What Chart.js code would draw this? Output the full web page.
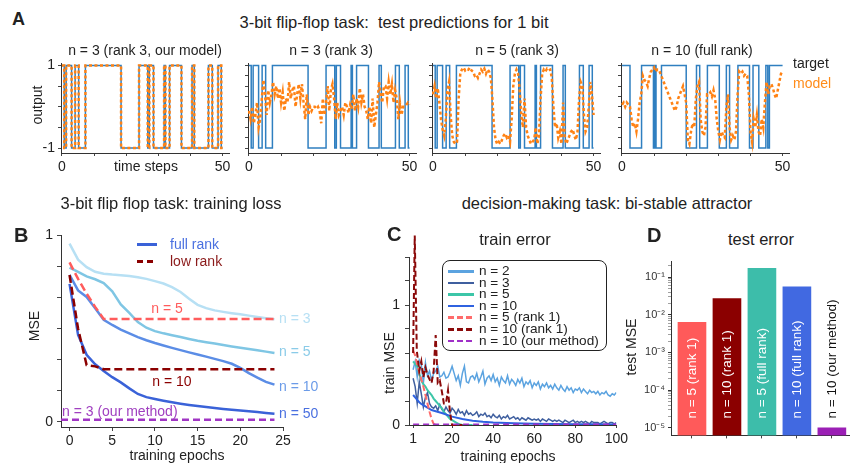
<!DOCTYPE html>
<html>
<head>
<meta charset="utf-8">
<script src="https://cdn.jsdelivr.net/npm/chart.js@4.4.1/dist/chart.umd.min.js"></script>
<style>
body { margin: 0; background: #fff; }
#fig { position: relative; width: 851px; height: 463px; overflow: hidden;
       font-family: "Liberation Sans", Arial, Helvetica, sans-serif; color: #222; }
canvas { position: absolute; }
.t { position: absolute; white-space: nowrap; line-height: 1; transform: translate(-50%, -50%); }
.l { transform: translate(0, -50%); }
.rot { transform: translate(-50%, -50%) rotate(-90deg); }
.big { font-weight: bold; font-size: 20px; }
.sec { font-size: 16.5px; }
.sw { position: absolute; height: 2.5px; }
#cleg { position: absolute; left: 442px; top: 260px; width: 165px; height: 91px;
        border: 1px solid #222; border-radius: 8px; box-sizing: border-box; }
</style>
</head>
<body>
<div id="fig">
  <canvas id="a1" width="198" height="121" style="left:39px;top:52px"></canvas>
  <canvas id="a2" width="198" height="121" style="left:226px;top:52px"></canvas>
  <canvas id="a3" width="198" height="121" style="left:410px;top:52px"></canvas>
  <canvas id="a4" width="198" height="121" style="left:599px;top:52px"></canvas>
  <canvas id="b" width="262" height="228" style="left:33px;top:223px"></canvas>
  <canvas id="c" width="248" height="217" style="left:383px;top:232px"></canvas>
  <canvas id="d" width="212" height="193" style="left:639px;top:252px"></canvas>

  <!-- panel A text -->
  <div class="t l big" style="left:12px;top:19px;font-size:18px">A</div>
  <div class="t sec" style="left:394px;top:22px">3-bit flip-flop task:&nbsp; test predictions for 1 bit</div>
  <div class="t" style="left:145px;top:50px;font-size:14px">n = 3 (rank 3, our model)</div>
  <div class="t" style="left:331px;top:50px;font-size:14px">n = 3 (rank 3)</div>
  <div class="t" style="left:517px;top:50px;font-size:14px">n = 5 (rank 3)</div>
  <div class="t" style="left:702px;top:50px;font-size:14px">n = 10 (full rank)</div>
  <div class="t l" style="left:793px;top:63px;font-size:14px">target</div>
  <div class="t l" style="left:793px;top:83px;font-size:14px;color:#ff8c1a">model</div>
  <div class="t rot" style="left:37px;top:105px;font-size:14px">output</div>
  <div class="t" style="left:146px;top:166px;font-size:14px">time steps</div>

  <!-- panel B text -->
  <div class="t sec" style="left:171px;top:203px">3-bit flip flop task: training loss</div>
  <div class="t l big" style="left:14px;top:235px">B</div>
  <div class="t rot" style="left:34px;top:326px;font-size:14px">MSE</div>
  <div class="t" style="left:177px;top:455px;font-size:14px">training epochs</div>
  <div class="sw" style="left:137px;top:243px;width:20px;background:#3a62d8"></div>
  <div class="t l" style="left:170px;top:244px;font-size:14px;color:#4a70e0">full rank</div>
  <div class="sw" style="left:137px;top:260px;width:20px;background:repeating-linear-gradient(90deg,#8b0000 0 6px,transparent 6px 10px)"></div>
  <div class="t l" style="left:170px;top:261px;font-size:14px;color:#8b1a1a">low rank</div>
  <div class="t" style="left:167px;top:308px;font-size:14px;color:#ff5c5c">n = 5</div>
  <div class="t" style="left:172px;top:381px;font-size:14px;color:#8b0000">n = 10</div>
  <div class="t l" style="left:62px;top:411px;font-size:14px;color:#a040c0">n = 3 (our method)</div>
  <div class="t l" style="left:279px;top:318px;font-size:14px;color:#b7e0f4">n = 3</div>
  <div class="t l" style="left:279px;top:351px;font-size:14px;color:#8acbe8">n = 5</div>
  <div class="t l" style="left:279px;top:386px;font-size:14px;color:#6b9be8">n = 10</div>
  <div class="t l" style="left:279px;top:413px;font-size:14px;color:#4a70e0">n = 50</div>

  <!-- panel C text -->
  <div class="t sec" style="left:607px;top:203px">decision-making task: bi-stable attractor</div>
  <div class="t l big" style="left:387px;top:234px">C</div>
  <div class="t sec" style="left:515px;top:239px">train error</div>
  <div class="t rot" style="left:389px;top:363px;font-size:14px">train MSE</div>
  <div class="t" style="left:508px;top:456px;font-size:14px">training epochs</div>
  <div id="cleg"></div>

  <!-- panel D text -->
  <div class="t l big" style="left:647px;top:235px">D</div>
  <div class="t sec" style="left:761px;top:239px">test error</div>
  <div class="t rot" style="left:631px;top:347px;font-size:14px">test MSE</div>
</div>

<script>
// ---------- panel A: flip-flop test trial ----------
// target switches: time at which the bit takes a new level
const flipTimes = [0, 0.7, 1.3, 3.0, 4.1, 5.2, 7.3, 18.4, 24.0, 26.7, 27.2, 28.5, 31.8, 32.2, 33.5, 37.2, 40.5, 41.2, 45.6, 46.8, 48.6, 49.6, 50];
const flipLevels = [1, -1, 1, -1, 1, -1, 1, -1, 1, -1, 1, -1, 1, -1, 1, -1, 1, -1, 1, -1, 1, -1, -1];
// the full rank n = 10 network was shown another trial
const flipTimesFull = [0, 2.5, 6.1, 9.8, 10.2, 10.6, 12.3, 20.0, 23.2, 24.2, 26.6, 30.3, 32.5, 33.5, 36.1, 39.7, 40.8, 42.6, 44.8, 45.4, 45.9, 50];
const flipLevelsFull = [1, -1, 1, -1, 1, -1, 1, -1, 1, -1, 1, -1, 1, -1, 1, -1, 1, -1, 1, -1, 1, 1];

// model outputs, one value every half time step (t = 0 .. 50)
const modelStep = 0.5;
const modelN3 = [
  -0.1, -0.3, 0.0, -0.4, -0.2, 0.1, -0.5, -0.3, 0.2, 0.65, 0.3, -0.2, 0.4, 0.1, 0.3,
  0.6, 0.3, 0.5, 0.2, 0.45, 0.1, 0.35, -0.1, 0.2, 0.1, 0.6, 0.2, 0.4, 0.5,
  0.0, 0.3, 0.55, 0.2, 0.55, 0.1, -0.3, 0.3, -0.2, 0.0, -0.1, 0.0, 0.0, -0.05, 0.0, -0.1,
  -0.4, 0.2, -0.2, 0.1, 0.5, -0.1, 0.4, 0.55, 0.2, -0.3, 0.1, -0.2, -0.1, 0.0, -0.2, 0.1,
  0.0, -0.15, 0.05, -0.05, 0.3, -0.1, 0.2, 0.0, 0.45, 0.1, 0.3, 0.0, -0.1, -0.3, 0.0, -0.4,
  0.2, -0.5, -0.2, 0.1, 0.6, 0.3, 0.1, 0.5, 0.5, 0.2, 0.6, 0.3, 0.55, 0.1, 0.4, 0.2,
  -0.3, 0.1, -0.2, 0.0, 0.0, 0.05, 0.1, 0.05
];
const modelN5 = [
  0.3, 0.5, 0.2, 0.45, 0.1, -0.3, -0.55, -0.7, -0.3, 0.4, 0.6, -0.2, -0.7, -0.85, -0.9, -0.85,
  0.2, 0.8, 0.9, 0.95, 0.88, 0.92, 0.9, 0.95, 0.88, 0.85, 0.75, 0.78, 0.7, 0.8, 0.9, 0.85,
  0.92, 0.8, 0.9, 0.85, 0.7, 0.2, -0.5, -0.8, -0.9, -0.85, -0.9, -0.8, -0.7, -0.65, -0.75, -0.7,
  -0.85, -0.3, 0.5, 0.8, 0.9, 0.8, 0.4, -0.2, -0.5, 0.2, -0.5, -0.7, -0.8, -0.9, -0.85, -0.8,
  -0.5, -0.9, -0.7, 0.2, 0.8, 0.9, 0.85, 0.92, 0.88, 0.9, 0.7, 0.0, -0.5, -0.4, -0.75, -0.6,
  -0.9, 0.1, -0.7, -0.9, -0.8, -0.7, -0.6, -0.55, -0.7, -0.8, -0.6, 0.2, 0.6, 0.5, -0.2, -0.6,
  -0.5, 0.0, 0.6, 0.3, -0.2
];
const modelN10 = [
  0.05, 0.1, 0.0, 0.1, 0.05, 0.0, -0.3, -0.5, -0.4, -0.6, -0.3, 0.1, 0.3, 0.75, 0.65,
  0.6, 0.5, 0.7, 0.85, 0.9, 0.95, 0.85, 0.9, 0.9, 0.8, 0.7, 0.6, 0.5, 0.4, 0.3, 0.2, 0.1, 0.0,
  -0.1, 0.0, 0.2, 0.3, 0.4, 0.5, 0.3, 0.1, -0.8, -0.9, -0.6, -0.4, -0.5, 0.2, 0.5, 0.6,
  -0.3, -0.6, -0.7, -0.5, 0.3, 0.3, 0.35, 0.25, 0.4, 0.2, -0.3, -0.6, -0.8, -0.6, -0.7, -0.75,
  0.0, 0.3, -0.5, -0.8, -0.7, -0.8, -0.6, 0.3, 0.85, 0.8, 0.85, 0.75, 0.8, 0.75, 0.3, -0.6,
  -0.85, -0.3, -0.5, -0.2, -0.6, -0.7, -0.3, -0.5, 0.1, 0.6, 0.3, 0.5, 0.55, 0.45, 0.3, 0.2,
  0.4, 0.6, 0.8, 0.85
];
const aTicksX = [0, 10, 20, 30, 40, 50];
const aTicksY1 = [-1, -0.5, 0, 0.5, 1];
const aTicksY = [-1, -0.75, -0.5, -0.25, 0, 0.25, 0.5, 0.75, 1];

// ---------- panel B: training loss, epochs 0..24 ----------
const bEpochs = [0, 1, 2, 3, 4, 5, 6, 7, 8, 9, 10, 11, 12, 13, 14, 15, 16, 17, 18, 19, 20, 21, 22, 23, 24];
const fullN3 = [0.956, 0.87, 0.83, 0.805, 0.795, 0.79, 0.787, 0.782, 0.776, 0.767, 0.755, 0.742, 0.723, 0.697, 0.66, 0.628, 0.61, 0.598, 0.59, 0.583, 0.577, 0.57, 0.563, 0.556, 0.55];
const fullN5 = [0.827, 0.805, 0.78, 0.765, 0.744, 0.70, 0.63, 0.585, 0.535, 0.505, 0.487, 0.475, 0.465, 0.455, 0.445, 0.435, 0.427, 0.42, 0.412, 0.405, 0.398, 0.391, 0.384, 0.377, 0.37];
const fullN10 = [0.788, 0.705, 0.67, 0.61, 0.548, 0.52, 0.495, 0.475, 0.455, 0.438, 0.423, 0.41, 0.397, 0.385, 0.373, 0.362, 0.35, 0.338, 0.326, 0.312, 0.29, 0.262, 0.238, 0.215, 0.2];
const fullN50 = [0.74, 0.467, 0.36, 0.309, 0.273, 0.24, 0.212, 0.18, 0.15, 0.133, 0.123, 0.114, 0.106, 0.098, 0.091, 0.085, 0.08, 0.075, 0.07, 0.066, 0.062, 0.058, 0.053, 0.048, 0.044];
const lowN5 = [0.855, 0.767, 0.688, 0.617, 0.552, 0.552, 0.552, 0.552, 0.552, 0.552, 0.552, 0.552, 0.552, 0.552, 0.552, 0.552, 0.552, 0.552, 0.552, 0.552, 0.552, 0.552, 0.552, 0.552, 0.552];
const lowN10 = [0.788, 0.50, 0.305, 0.298, 0.283, 0.283, 0.283, 0.283, 0.283, 0.283, 0.283, 0.283, 0.283, 0.283, 0.283, 0.283, 0.283, 0.283, 0.283, 0.283, 0.283, 0.283, 0.283, 0.283, 0.283];
const oursEpochs = [-1, 24];
const oursN3 = [0.012, 0.012];
const bTicksX = [0, 5, 10, 15, 20, 25];
const bTicksY = [0, 1 / 6, 2 / 6, 3 / 6, 4 / 6, 5 / 6, 1];

// ---------- panel C: train error, decision-making task ----------
// n = 2 and n = 3: one value per epoch, epochs 1..100
const trainN2 = [
  0.46, 0.53, 0.40, 0.54, 0.50, 0.35, 0.52, 0.41, 0.45, 0.37,
  0.43, 0.45, 0.49, 0.40, 0.41, 0.44, 0.39, 0.40, 0.44, 0.49,
  0.43, 0.37, 0.41, 0.33, 0.43, 0.49, 0.36, 0.35, 0.40, 0.41,
  0.38, 0.43, 0.36, 0.40, 0.45, 0.34, 0.39, 0.41, 0.37, 0.42,
  0.36, 0.39, 0.33, 0.40, 0.37, 0.35, 0.41, 0.34, 0.38, 0.36,
  0.33, 0.38, 0.35, 0.39, 0.32, 0.36, 0.34, 0.37, 0.31, 0.35,
  0.33, 0.36, 0.30, 0.34, 0.32, 0.35, 0.31, 0.33, 0.30, 0.34,
  0.31, 0.29, 0.33, 0.30, 0.28, 0.32, 0.29, 0.31, 0.27, 0.30,
  0.29, 0.31, 0.27, 0.30, 0.28, 0.26, 0.29, 0.27, 0.28, 0.26,
  0.28, 0.25, 0.27, 0.26, 0.28, 0.25, 0.24, 0.26, 0.25, 0.27
];
const trainN3 = [
  0.39, 0.32, 0.18, 0.36, 0.26, 0.15, 0.23, 0.27, 0.18, 0.15,
  0.14, 0.16, 0.12, 0.17, 0.13, 0.11, 0.15, 0.12, 0.10, 0.14,
  0.12, 0.09, 0.13, 0.10, 0.11, 0.08, 0.12, 0.09, 0.10, 0.08,
  0.09, 0.11, 0.07, 0.09, 0.08, 0.10, 0.07, 0.08, 0.06, 0.09,
  0.07, 0.06, 0.08, 0.05, 0.07, 0.06, 0.08, 0.05, 0.06, 0.07,
  0.05, 0.06, 0.04, 0.06, 0.05, 0.04, 0.06, 0.05, 0.04, 0.05,
  0.04, 0.05, 0.03, 0.05, 0.04, 0.03, 0.05, 0.04, 0.03, 0.04,
  0.03, 0.04, 0.03, 0.02, 0.04, 0.03, 0.02, 0.03, 0.04, 0.02,
  0.03, 0.02, 0.03, 0.02, 0.03, 0.02, 0.01, 0.03, 0.02, 0.02,
  0.02, 0.01, 0.02, 0.03, 0.02, 0.01, 0.02, 0.02, 0.01, 0.02
];
const trainN5 = [0.53, 0.51, 0.49, 0.43, 0.37, 0.34, 0.32, 0.29, 0.27, 0.25, 0.22, 0.20, 0.18, 0.16, 0.14, 0.11, 0.09, 0.07, 0.05, 0.04, 0.03, 0.02, 0.01, 0.005, 0, 0, 0, 0, 0, 0];
const n10Epochs = [1, 2, 3, 4, 5, 6, 8, 10, 12, 15, 20, 25, 30, 35, 40, 50, 60, 70, 80, 90, 100];
const trainN10 = [0.25, 0.23, 0.21, 0.19, 0.175, 0.165, 0.145, 0.125, 0.115, 0.1, 0.07, 0.05, 0.036, 0.027, 0.02, 0.014, 0.011, 0.009, 0.007, 0.006, 0.005];
const r5Epochs = [1, 2, 3, 4, 5, 6, 7, 8, 9, 10, 11, 12];
const trainR5 = [0.62, 0.58, 0.5, 0.44, 0.38, 0.32, 0.25, 0.18, 0.11, 0.05, 0.01, 0];
const r10Epochs = [1, 1.8, 2.8, 4, 5, 6, 7, 8, 9, 10, 11, 12, 13, 14, 15, 16, 17, 18, 19, 20, 25];
const trainR10 = [0.6, 1.58, 0.62, 0.45, 0.53, 0.4, 0.48, 0.42, 0.38, 0.35, 0.45, 0.75, 0.35, 0.37, 0.28, 0.18, 0.18, 0.29, 0.1, 0, 0];
const oursCEpochs = [1, 100];
const trainOurs = [0, 0];
const cTicksX = [1, 20, 40, 60, 80, 100];
const cTicksY = [0, 0.2, 0.4, 0.6, 0.8, 1, 1.2, 1.4];

// ---------- panel D: test error (log scale) ----------
const testLabels = ['n = 5 (rank 1)', 'n = 10 (rank 1)', 'n = 5 (full rank)', 'n = 10 (full rank)', 'n = 10 (our method)'];
const testMSE = [0.0063, 0.027, 0.17, 0.055, 0.00001];
const testColors = ['#ff5a5a', '#8b0000', '#3dbdaa', '#4169e1', '#9b1fb5'];
const dDecades = [-5, -4, -3, -2, -1];

Chart.defaults.font.family = '"Liberation Sans", Arial, Helvetica, sans-serif';
Chart.defaults.font.size = 14;
Chart.defaults.color = '#222';

function pts(xs, ys) {
  return ys.map((y, i) => ({ x: xs[i], y: y }));
}
// model traces are sampled every half time step
function sampled(ys) {
  return ys.map((y, i) => ({ x: i * modelStep, y: y }));
}

// axis with fixed size so the plot area lands where the figure has it
function axis(min, max, tickValues, shown, size, tickLen, pad) {
  return {
    type: 'linear', min: min, max: max,
    afterBuildTicks: a => { a.ticks = tickValues.map(v => ({ value: v })); },
    afterFit: a => { if (a.isHorizontal()) a.height = size; else a.width = size; },
    grid: { drawOnChartArea: false, drawTicks: true, tickLength: tickLen, color: '#444' },
    border: { display: true, color: '#333', width: 1 },
    ticks: { autoSkip: false, maxRotation: 0, padding: pad,
             callback: v => shown.includes(v) ? String(v) : '' }
  };
}

function baseOptions(padding, scales) {
  return {
    responsive: false, animation: false, devicePixelRatio: 1,
    layout: { padding: padding },
    plugins: { legend: { display: false }, tooltip: { enabled: false } },
    elements: { point: { radius: 0 }, line: { tension: 0 } },
    scales: scales
  };
}

function line(data, color, width, dash) {
  return { data: data, borderColor: color, borderWidth: width, borderDash: dash || [], fill: false, pointRadius: 0 };
}

function flipChart(id, target, model, modelStepped, yTicks, yShown) {
  const m = line(model, '#ff8214', 2.5, [3, 2.5]);
  m.stepped = modelStepped;
  const t = line(target, '#2f7fc0', 1.5);
  t.stepped = true;
  new Chart(document.getElementById(id), {
    type: 'line',
    data: { datasets: [m, t] },
    options: baseOptions({ top: 8, right: 8, left: 0, bottom: 0 }, {
      x: axis(-0.3, 52, aTicksX, [0, 50], 20, 3, 3),
      y: axis(-1.12, 1.05, yTicks, yShown, 22, 3, 3)
    })
  });
}

const target = pts(flipTimes, flipLevels);
flipChart('a1', target, target, true, aTicksY1, [-1, 1]); // our model tracks the target exactly
flipChart('a2', target, sampled(modelN3), false, aTicksY, []);
flipChart('a3', target, sampled(modelN5), false, aTicksY, []);
flipChart('a4', pts(flipTimesFull, flipLevelsFull), sampled(modelN10), false, aTicksY, []);

// panel B
new Chart(document.getElementById('b'), {
  type: 'line',
  data: { datasets: [
    line(pts(oursEpochs, oursN3), '#a035c4', 2.5, [7, 4]),
    line(pts(bEpochs, lowN10), '#8b0000', 2.5, [8, 4]),
    line(pts(bEpochs, lowN5), '#ff5c5c', 2.5, [8, 4]),
    line(pts(bEpochs, fullN50), '#3a62d8', 2.5),
    line(pts(bEpochs, fullN10), '#5b8de6', 2.5),
    line(pts(bEpochs, fullN5), '#7fc6e4', 2.5),
    line(pts(bEpochs, fullN3), '#b7e0f4', 2.5)
  ]},
  options: baseOptions({ top: 10, right: 12, left: 0, bottom: 0 }, {
    x: axis(-1, 25, bTicksX, bTicksX, 24, 4, 2),
    y: axis(-0.027, 1, bTicksY, [0, 1], 28, 4, 4)
  })
});

// panel C
const cSets = [
  line(pts(oursCEpochs, trainOurs), '#a030c8', 3, [6, 4]),
  line(pts(r10Epochs, trainR10), '#8b0a0a', 2, [6, 3]),
  line(pts(r5Epochs, trainR5), '#ff6b6b', 2, [6, 3]),
  line(pts(n10Epochs, trainN10), '#2f62e0', 2),
  line(trainN5.map((y, i) => ({ x: i + 1, y: y })), '#3cc6a8', 2),
  line(trainN3.map((y, i) => ({ x: i + 1, y: y })), '#3f5f9f', 1.5),
  line(trainN2.map((y, i) => ({ x: i + 1, y: y })), '#5ba3e0', 1.5)
];
cSets[1].clip = false;
new Chart(document.getElementById('c'), {
  type: 'line',
  data: { datasets: cSets },
  options: baseOptions({ top: 25, right: 14, left: 0, bottom: 0 }, {
    x: axis(-1, 100, cTicksX, cTicksX, 24, 3, 3),
    y: axis(0, 1.4, cTicksY, [0, 1], 26, 4, 5)
  })
});

// legend of panel C (drawn as page text)
const cLegend = [
  ['n = 2', '#5ba3e0', false], ['n = 3', '#3f5f9f', false], ['n = 5', '#3cc6a8', false],
  ['n = 10', '#2f62e0', false], ['n = 5 (rank 1)', '#ff6b6b', true],
  ['n = 10 (rank 1)', '#8b0a0a', true], ['n = 10 (our method)', '#a030c8', true]
];
const leg = document.getElementById('cleg');
cLegend.forEach((e, i) => {
  const y = 10 + i * 11.6;
  const sw = document.createElement('div');
  sw.className = 'sw';
  sw.style.cssText = 'left:5px;top:' + (y - 1) + 'px;width:26px;background:' +
    (e[2] ? 'repeating-linear-gradient(90deg,' + e[1] + ' 0 6px,transparent 6px 9px)' : e[1]);
  leg.appendChild(sw);
  const tx = document.createElement('div');
  tx.className = 't l';
  tx.style.cssText = 'left:36px;top:' + y + 'px;font-size:13.6px';
  tx.textContent = e[0];
  leg.appendChild(tx);
});

// panel D
const sup = { '-5': '⁻⁵', '-4': '⁻⁴', '-3': '⁻³', '-2': '⁻²', '-1': '⁻¹' };
const barText = {
  id: 'barText',
  afterDatasetsDraw(chart) {
    const ctx = chart.ctx;
    chart.getDatasetMeta(0).data.forEach((bar, i) => {
      ctx.save();
      ctx.translate(bar.x, chart.chartArea.bottom - 17);
      ctx.rotate(-Math.PI / 2);
      ctx.font = '13.5px "Liberation Sans", Arial, sans-serif';
      ctx.fillStyle = i === 4 ? '#111' : '#fff';
      ctx.textAlign = 'left';
      ctx.textBaseline = 'middle';
      ctx.fillText(testLabels[i], 0, 0);
      ctx.restore();
    });
  }
};
const dx = axis(-0.6, 4.49, [0, 1, 2, 3, 4], [], 8, 3, 0);
dx.offset = false;
dx.grid.offset = false;
dx.ticks.display = false;
// decade ticks plus the minor 2..9 ticks of each decade
const dy = axis(Math.pow(10, -5.2), Math.pow(10, -0.59), [], [], 32, 3, 3);
dy.type = 'logarithmic';
dy.afterBuildTicks = a => {
  const t = [];
  dDecades.forEach(e => { for (let k = 1; k <= 9; k++) t.push({ value: k * Math.pow(10, e), major: k === 1 }); });
  a.ticks = t.filter(x => x.value >= a.min && x.value <= a.max);
};
dy.grid.tickColor = c => (c.tick && c.tick.major ? '#333' : '#777');
dy.grid.tickWidth = c => (c.tick && c.tick.major ? 1 : 0.7);
dy.ticks.font = { size: 11 };
dy.ticks.color = '#333';
dy.ticks.callback = (v, i, ticks) => ticks[i].major ? '10' + sup[String(Math.round(Math.log10(v)))] : '';
new Chart(document.getElementById('d'), {
  type: 'bar',
  data: { datasets: [{
    data: pts([0, 1, 2, 3, 4], testMSE),
    backgroundColor: testColors,
    barThickness: 28
  }]},
  options: baseOptions({ top: 8, right: 2, left: 0, bottom: 0 }, { x: dx, y: dy }),
  plugins: [barText]
});
</script>
</body>
</html>
